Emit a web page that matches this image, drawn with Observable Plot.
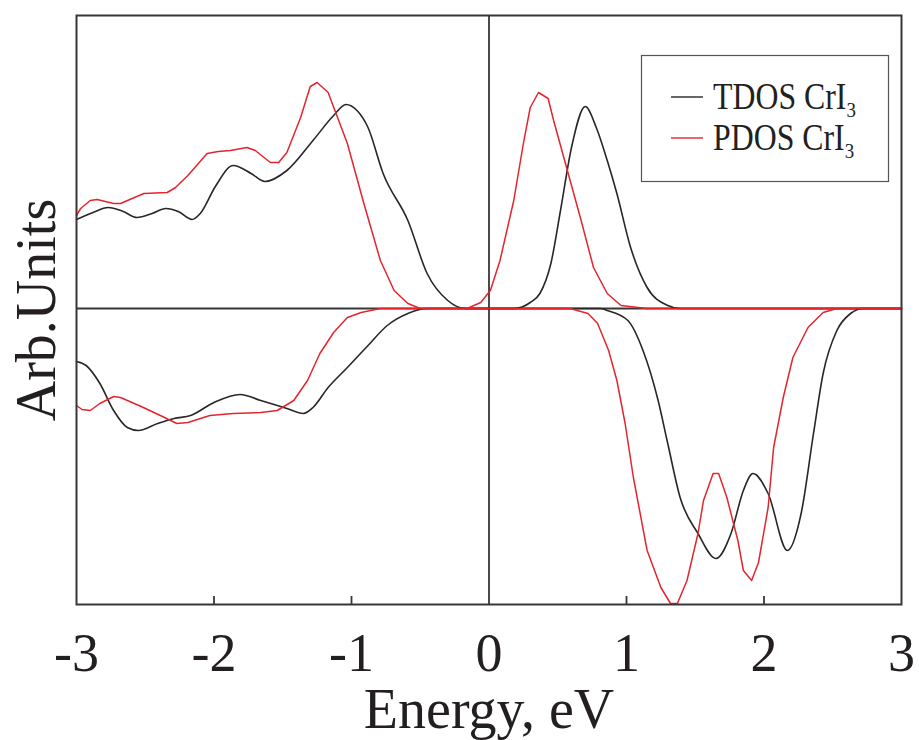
<!DOCTYPE html>
<html><head><meta charset="utf-8">
<script src="https://cdn.jsdelivr.net/npm/d3@7"></script>
<script src="https://cdn.jsdelivr.net/npm/@observablehq/plot@0.6"></script>
<style>body{margin:0;background:#fff;} #chart{width:919px;height:740px;}</style>
</head><body><div id="chart"></div>
<script>
const energyTicks = [-3, -2, -1, 0, 1, 2, 3];
const innerTicks = [-2, -1, 1, 2];
const seriesNames = ["TDOS CrI", "PDOS CrI"];
const seriesColors = ["#2b2526", "#e3252e"];

// [energy (eV), DOS (arb. units)] — spin up (positive) and spin down (negative)
const tdosUp = [[-3.00,89],[-2.88,96],[-2.77,101],[-2.66,97],[-2.56,91],[-2.45,95],[-2.35,100],[-2.26,97],[-2.16,89],[-2.10,95],[-1.99,122],[-1.86,143],[-1.73,135],[-1.63,127],[-1.47,138],[-1.28,168],[-1.13,193],[-1.04,204],[-0.96,198],[-0.88,181],[-0.77,135],[-0.59,88],[-0.45,35],[-0.30,8],[-0.17,0],[0.00,0],[0.18,0],[0.30,6],[0.37,15],[0.45,45],[0.52,98],[0.60,161],[0.70,202],[0.78,181],[0.86,148],[0.93,115],[1.03,61],[1.15,21],[1.30,3],[1.39,0],[1.90,0],[3.00,0]];
const tdosDown = [[-3.00,-53],[-2.93,-57],[-2.83,-75],[-2.73,-102],[-2.63,-119],[-2.55,-122],[-2.41,-115],[-2.29,-110],[-2.17,-107],[-2.00,-94],[-1.81,-86],[-1.66,-92],[-1.47,-100],[-1.35,-105],[-1.28,-99],[-1.17,-79],[-1.03,-59],[-0.88,-37],[-0.74,-17],[-0.59,-5],[-0.45,0],[0.81,0],[0.86,-2],[1.01,-12],[1.12,-42],[1.23,-92],[1.30,-135],[1.39,-189],[1.52,-225],[1.65,-250],[1.76,-225],[1.85,-182],[1.92,-165],[2.03,-185],[2.17,-242],[2.27,-205],[2.36,-125],[2.43,-65],[2.53,-22],[2.63,-5],[2.72,0],[3.00,0]];
const pdosUp = [[-3.00,93],[-2.97,100],[-2.90,108],[-2.85,109],[-2.73,105],[-2.68,105],[-2.51,115],[-2.34,116],[-2.28,121],[-2.19,133],[-2.05,155],[-1.97,157],[-1.88,158],[-1.76,161],[-1.70,158],[-1.59,146],[-1.53,146],[-1.47,156],[-1.37,191],[-1.30,222],[-1.25,226],[-1.17,216],[-1.03,165],[-0.91,105],[-0.79,48],[-0.69,18],[-0.59,5],[-0.50,0],[-0.16,0],[-0.06,6],[0.01,18],[0.08,48],[0.18,108],[0.25,165],[0.30,201],[0.36,216],[0.43,210],[0.47,188],[0.57,138],[0.67,88],[0.76,41],[0.86,15],[0.96,3],[1.15,0],[3.00,0]];
const pdosDown = [[-3.00,-97],[-2.96,-101],[-2.90,-102],[-2.83,-95],[-2.73,-88],[-2.68,-89],[-2.53,-98],[-2.39,-107],[-2.27,-115],[-2.19,-114],[-2.03,-107],[-1.86,-105],[-1.66,-104],[-1.54,-102],[-1.42,-92],[-1.32,-72],[-1.23,-45],[-1.13,-24],[-1.03,-9],[-0.93,-4],[-0.79,0],[0.59,0],[0.72,-5],[0.79,-15],[0.87,-42],[0.93,-72],[0.99,-115],[1.05,-169],[1.15,-242],[1.25,-279],[1.32,-295],[1.37,-295],[1.44,-272],[1.52,-225],[1.56,-192],[1.63,-165],[1.67,-165],[1.73,-189],[1.81,-232],[1.85,-262],[1.91,-272],[1.96,-254],[2.03,-199],[2.07,-139],[2.14,-89],[2.21,-49],[2.32,-19],[2.43,-4],[2.53,0],[3.00,0]];

const toRows = pts => pts.map(([e, v]) => ({e, v}));
const yMin = -296, yMax = 293;
const frameColor = "#3a3536";
const font = "'Liberation Serif', 'Times New Roman', serif";

const plot = Plot.plot({
  width: 919, height: 740,
  marginLeft: 76, marginRight: 18, marginTop: 15, marginBottom: 136,
  style: {fontFamily: font, background: "#fff", color: "#231f20"},
  x: {domain: [-3, 3]},
  y: {domain: [yMin, yMax], axis: null},
  marks: [
    Plot.ruleY([0], {stroke: frameColor, strokeWidth: 1.8}),
    Plot.ruleX([0], {stroke: frameColor, strokeWidth: 1.8}),
    Plot.ruleX(innerTicks, {y1: yMin, y2: yMin + 8, stroke: frameColor, strokeWidth: 1.8}),
    Plot.line(toRows(tdosUp), {x: "e", y: "v", stroke: seriesColors[0], strokeWidth: 1.6, curve: "monotone-x"}),
    Plot.line(toRows(tdosDown), {x: "e", y: "v", stroke: seriesColors[0], strokeWidth: 1.6, curve: "monotone-x"}),
    Plot.line(toRows(pdosUp), {x: "e", y: "v", stroke: seriesColors[1], strokeWidth: 1.5}),
    Plot.line(toRows(pdosDown), {x: "e", y: "v", stroke: seriesColors[1], strokeWidth: 1.5}),
    Plot.frame({stroke: frameColor, strokeWidth: 2}),
    Plot.axisX(energyTicks, {tickSize: 0, tickPadding: 28, fontSize: 54, tickFormat: d => String(d), label: null, fill: "#231f20"}),
    Plot.text(["Energy, eV"], {frameAnchor: "bottom", dy: 106, fontSize: 56, lineAnchor: "middle", textAnchor: "middle", fill: "#231f20"}),
    Plot.text(["Arb.Units"], {frameAnchor: "left", dx: -39, rotate: -90, fontSize: 56, lineAnchor: "middle", textAnchor: "middle", fill: "#231f20"})
  ]
});
document.getElementById("chart").appendChild(plot);

// legend inside the plot area
const svg = d3.select(plot);
const lg = svg.append("g").attr("font-family", font).attr("fill", "#231f20").attr("text-anchor", "start");
lg.append("rect").attr("x", 641.5).attr("y", 55.5).attr("width", 247).attr("height", 126)
  .attr("fill", "#fff").attr("stroke", "#555").attr("stroke-width", 1.2);
seriesNames.forEach((name, i) => {
  const yy = 97 + i * 41;
  lg.append("line").attr("x1", 671).attr("x2", 703).attr("y1", yy).attr("y2", yy)
    .attr("stroke", seriesColors[i]).attr("stroke-width", 1.4);
  const t = lg.append("text").attr("text-anchor", "start")
    .attr("transform", `translate(713,${yy + 12}) scale(0.86,1)`).attr("font-size", 37);
  t.append("tspan").text(name);
  t.append("tspan").attr("font-size", 22).attr("dy", 8).text("3");
});
</script>
</body></html>
